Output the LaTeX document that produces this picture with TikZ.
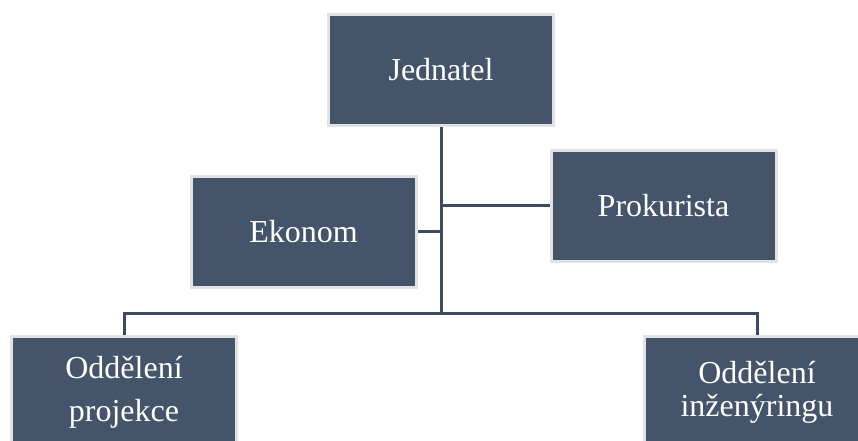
\documentclass[tikz,border=0pt]{standalone}
\usepackage{fontspec}
\setmainfont{Liberation Serif}
\usetikzlibrary{positioning}
\usetikzlibrary{calc}

\definecolor{boxfill}{HTML}{44546A}
\definecolor{boxline}{HTML}{E2E2E2}
\definecolor{connline}{HTML}{3C4B5F}

\tikzset{
    orgbox/.style={draw=boxline, line width=3pt, fill=boxfill, text=white,
        minimum width=225pt, minimum height=111pt, inner sep=0pt,
        align=center, font=\fontsize{32}{40}\selectfont},
    conn/.style={draw=connline, line width=3pt}
}

\begin{document}
\begin{tikzpicture}[x=1pt, y=-1pt]
        \useasboundingbox (0,0) rectangle (858,441);
        \clip (0,0) rectangle (858,441);

        \node[orgbox] (jednatel) at (441,70) {Jednatel};
        \node[orgbox] (ekonom) at (303.5,231.5) {Ekonom};
        \node[orgbox] (prokurista) at (663.5,205.5) {Prokurista};
        \node[orgbox, font=\fontsize{32}{43}\selectfont] (projekce) at (124,392) {Oddělení\\projekce};
        \node[orgbox, font=\fontsize{32}{33}\selectfont] (inzenyring) at (757,392) {Oddělení\\inženýringu};

        \coordinate (bus) at (jednatel.south |- 0,313);
        \draw[conn] (jednatel.south) -- (bus);
        \draw[conn] (ekonom.east) -- (ekonom.east -| bus);
        \draw[conn] (prokurista.west -| bus) -- (prokurista.west);
        \draw[conn] (projekce.north) |- (bus) -| (inzenyring.north);
    \end{tikzpicture}
\end{document}
